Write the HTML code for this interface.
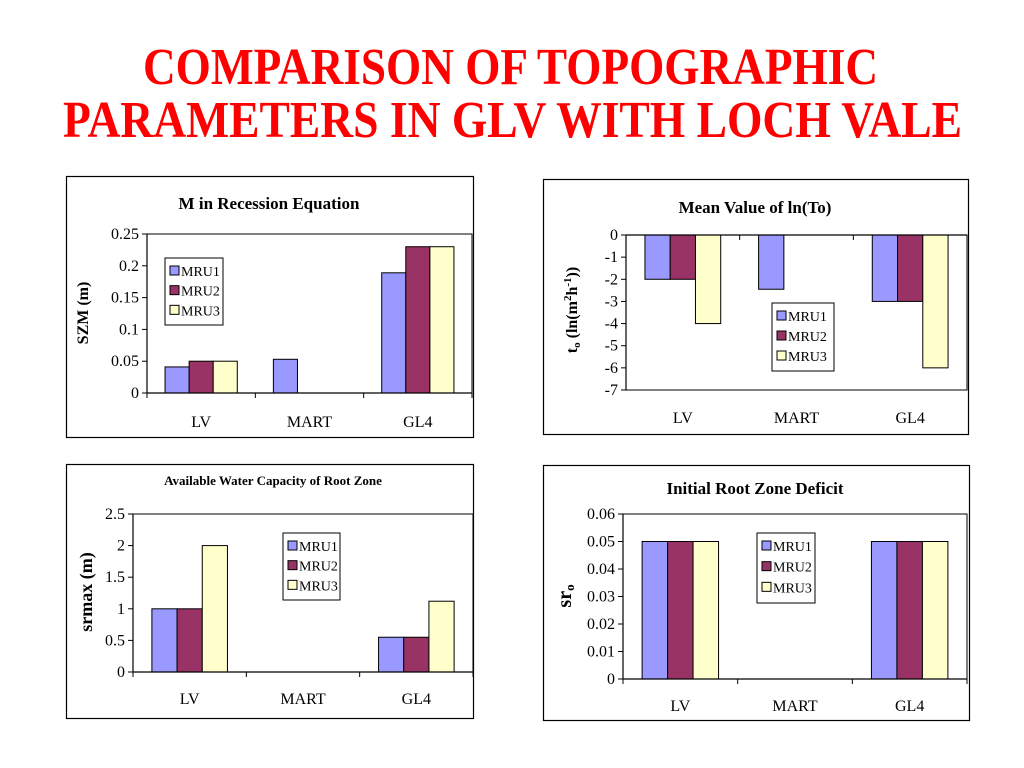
<!DOCTYPE html>
<html><head><meta charset="utf-8"><style>
html,body{margin:0;padding:0;background:#fff;width:1024px;height:768px;overflow:hidden}
svg{display:block}
text{font-family:"Liberation Serif",serif}
</style></head><body>
<svg id="root" width="1024" height="768" viewBox="0 0 1024 768" xmlns="http://www.w3.org/2000/svg">
<text x="143" y="84" textLength="735" lengthAdjust="spacingAndGlyphs" font-size="52" font-weight="bold" fill="#f00">COMPARISON OF TOPOGRAPHIC</text>
<text x="63" y="137" textLength="899" lengthAdjust="spacingAndGlyphs" font-size="52" font-weight="bold" fill="#f00">PARAMETERS IN GLV WITH LOCH VALE</text>
</svg>
<script>
const categories = ["LV","MART","GL4"];
const seriesNames = ["MRU1","MRU2","MRU3"];
const szmMRU1 = [0.041,0.053,0.189];
const szmMRU2 = [0.05,0,0.23];
const szmMRU3 = [0.05,0,0.23];
const szmTicks = ["0","0.05","0.1","0.15","0.2","0.25"];
const toMRU1 = [-2,-2.45,-3];
const toMRU2 = [-2,0,-3];
const toMRU3 = [-4,0,-6];
const toTicks = ["0","-1","-2","-3","-4","-5","-6","-7"];
const srmaxMRU1 = [1,0,0.55];
const srmaxMRU2 = [1,0,0.55];
const srmaxMRU3 = [2,0,1.12];
const srmaxTicks = ["0","0.5","1","1.5","2","2.5"];
const sr0MRU1 = [0.05,0,0.05];
const sr0MRU2 = [0.05,0,0.05];
const sr0MRU3 = [0.05,0,0.05];
const sr0Ticks = ["0","0.01","0.02","0.03","0.04","0.05","0.06"];

const colors = ["#9999ff","#993366","#ffffcc"];
const NS = "http://www.w3.org/2000/svg";
const root = document.getElementById("root");
function mk(tag, attrs, parent){const e=document.createElementNS(NS,tag);for(const k in attrs)e.setAttribute(k,attrs[k]);(parent||root).appendChild(e);return e;}

function chart(c){
  const g = mk("g",{});
  
  
  const frame = mk("rect",{x:c.box[0]+0.5,y:c.box[1]+0.5,width:c.box[2],height:c.box[3],fill:"#fff",stroke:"#000","stroke-width":1.2},g);
  
  
  const t = mk("text",{x:c.titleX,y:c.titleY,"font-size":c.titleSize,"font-weight":"bold","text-anchor":"middle"},g);
  t.textContent = c.title;
  
  
  const [px0,py0,px1,py1] = c.plot;
  const ticks = c.ticks.map(Number);
  const vmin = Math.min(...ticks), vmax = Math.max(...ticks);
  const y = v => py1 - (v - vmin)/(vmax - vmin)*(py1 - py0);
  const W = (px1 - px0)/categories.length;
  const bw = W/4.5;
  const x = (ci,si) => px0 + ci*W + (W - 3*bw)/2 + si*bw;
  const pa = mk("rect",{x:px0,y:py0,width:px1-px0,height:py1-py0,fill:"none",stroke:"#000","stroke-width":1},g);
  
  
  const base = y(Math.max(vmin, Math.min(0, vmax)));
  c.series.forEach((arr,si)=>{
    arr.forEach((v,ci)=>{
      if(v===0) return;
      const yv = y(v);
      const r = mk("rect",{x:x(ci,si),y:Math.min(yv,base),width:bw,height:Math.abs(base-yv),fill:colors[si],stroke:"#000","stroke-width":1},g);
      
      
    });
  });
  const ya = mk("line",{x1:px0,y1:py0,x2:px0,y2:py1,stroke:"#000","stroke-width":1.2},g);
  
  
  c.ticks.forEach(tk=>{
    const yy = y(Number(tk));
    mk("line",{x1:px0-5,y1:yy,x2:px0,y2:yy,stroke:"#000"},g);
    const tl = mk("text",{x:px0-8,y:yy+5,"font-size":16,"text-anchor":"end"},g);
    tl.textContent = tk;
    
    
  });
  const xa = mk("line",{x1:px0,y1:base,x2:px1,y2:base,stroke:"#000","stroke-width":1.2},g);
  
  
  for(let i=0;i<=categories.length;i++){
    mk("line",{x1:px0+i*W,y1:base,x2:px0+i*W,y2:base+5,stroke:"#000"},g);
  }
  categories.forEach((cat,ci)=>{
    const cl = mk("text",{x:px0+ci*W+W/2,y:c.catY,"font-size":16,"text-anchor":"middle"},g);
    cl.textContent = cat;
    
    
  });
  const yt = mk("text",{x:0,y:0,"font-size":c.ytSize||16,"font-weight":"bold","text-anchor":"middle",transform:`translate(${c.ytX},${c.ytY}) rotate(-90)`},g);
  yt.innerHTML = c.ytitle;
  
  
  const [lx,ly,lw,lh] = c.legend;
  const lg = mk("g",{},g);
  
  
  mk("rect",{x:lx,y:ly,width:lw,height:lh,fill:"#fff",stroke:"#000","stroke-width":1},lg);
  seriesNames.forEach((s,si)=>{
    const ey = ly + 8 + si*(lh-8)/3;
    const sw = mk("rect",{x:lx+5,y:ey,width:9,height:9,fill:colors[si],stroke:"#000"},lg);
    
    
    const lt = mk("text",{x:lx+16,y:ey+10,"font-size":14},lg);
    lt.textContent = s;
    
    
  });
}

chart({name:"chart-m-recession",box:[66,176,407,261],title:"M in Recession Equation",titleX:269,titleY:209,titleSize:17,
  plot:[147,234,472,393],ticks:szmTicks,series:[szmMRU1,szmMRU2,szmMRU3],catY:427,
  ytitle:"SZM (m)",ytX:88,ytY:313,legend:[165,258,58,67]});
chart({name:"chart-mean-ln-to",box:[543,179,425,255],title:"Mean Value of ln(To)",titleX:755,titleY:213,titleSize:17,
  plot:[626,235,967,390],ticks:toTicks,series:[toMRU1,toMRU2,toMRU3],catY:423,
  ytitle:'t<tspan font-size="11" dy="3">o</tspan><tspan dy="-3"> (ln(m</tspan><tspan font-size="11" dy="-6">2</tspan><tspan dy="6">h</tspan><tspan font-size="11" dy="-6">-1</tspan><tspan dy="6">))</tspan>',ytX:577,ytY:310,legend:[772,303,62,68]});
chart({name:"chart-water-capacity",box:[66,464,407,254],title:"Available Water Capacity of Root Zone",titleX:273,titleY:485,titleSize:13,
  plot:[133,514,473,672],ticks:srmaxTicks,series:[srmaxMRU1,srmaxMRU2,srmaxMRU3],catY:704,
  ytitle:"srmax (m)",ytX:92,ytY:592,ytSize:18,legend:[283,533,57,67]});
chart({name:"chart-root-zone-deficit",box:[543,465,426,255],title:"Initial Root Zone Deficit",titleX:755,titleY:494,titleSize:17,
  plot:[623,514,967,679],ticks:sr0Ticks,series:[sr0MRU1,sr0MRU2,sr0MRU3],catY:711,
  ytitle:'sr<tspan font-size="13" dy="3">o</tspan>',ytX:571,ytY:596,ytSize:20,legend:[757,533,58,70]});
</script>
</body></html>
